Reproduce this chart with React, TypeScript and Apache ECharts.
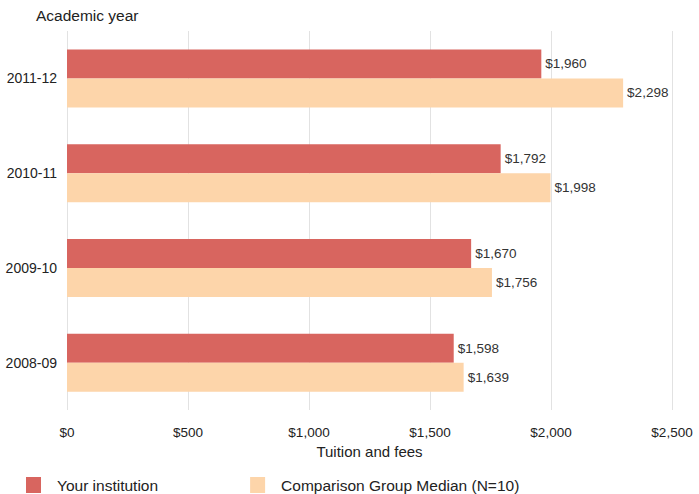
import React, { useEffect, useRef } from "react";
import * as echarts from "echarts";

const categories = ["2008-09", "2009-10", "2010-11", "2011-12"];
const yourInstitution = [1598, 1670, 1792, 1960];
const comparisonMedian = [1639, 1756, 1998, 2298];
const xTicks = { min: 0, max: 2500, interval: 500 };

const fmt = (v: number) => "$" + v.toLocaleString("en-US");
const FONT = "Liberation Sans, Arial, Helvetica, sans-serif";

export default function App() {
  const ref = useRef<HTMLDivElement>(null);
  useEffect(() => {
    if (!ref.current) return;
    const chart = echarts.init(ref.current, null, { renderer: "svg" });
    chart.setOption({
      animation: false,
      backgroundColor: "#ffffff",
      textStyle: { fontFamily: FONT },
      title: {
        text: "Academic year",
        left: 31,
        top: 2,
        textStyle: { fontSize: 15.5, fontWeight: "normal", color: "#222", fontFamily: FONT },
      },
      grid: { left: 67, right: 27, top: 31, bottom: 84, containLabel: false },
      xAxis: {
        type: "value",
        min: xTicks.min,
        max: xTicks.max,
        interval: xTicks.interval,
        name: "Tuition and fees",
        nameLocation: "middle",
        nameGap: 31,
        nameTextStyle: { fontSize: 15, color: "#222", fontFamily: FONT },
        axisLine: { show: false },
        axisTick: { show: false },
        axisLabel: { formatter: (v: number) => fmt(v), fontSize: 13.5, color: "#222", margin: 15, fontFamily: FONT },
        splitLine: { show: true, lineStyle: { color: "#e2e2e2", width: 1 } },
      },
      yAxis: {
        type: "category",
        data: categories,
        axisLine: { show: false },
        axisTick: { show: false },
        axisLabel: { fontSize: 14, color: "#222", margin: 10, fontFamily: FONT },
        splitLine: { show: false },
      },
      legend: {
        top: 472,
        left: 21,
        itemWidth: 15,
        itemHeight: 16,
        itemGap: 92,
        icon: "rect",
        textStyle: { fontSize: 15.5, color: "#222", padding: [0, 0, 0, 11], fontFamily: FONT },
        data: ["Your institution", "Comparison Group Median (N=10)"],
      },
      series: [
        {
          name: "Your institution",
          type: "bar",
          data: yourInstitution,
          barWidth: 29,
          barGap: "0%",
          itemStyle: { color: "#d8655f" },
          label: { show: true, position: "right", distance: 4, formatter: (p: any) => fmt(p.value), fontSize: 13.5, color: "#333", fontFamily: FONT },
        },
        {
          name: "Comparison Group Median (N=10)",
          type: "bar",
          data: comparisonMedian,
          barWidth: 29,
          barGap: "0%",
          itemStyle: { color: "#fdd5aa" },
          label: { show: true, position: "right", distance: 4, formatter: (p: any) => fmt(p.value), fontSize: 13.5, color: "#333", fontFamily: FONT },
        },
      ],
    });
    return () => chart.dispose();
  }, []);
  return <div ref={ref} style={{ width: 699, height: 494, position: "absolute", left: 0, top: 0 }} />;
}
